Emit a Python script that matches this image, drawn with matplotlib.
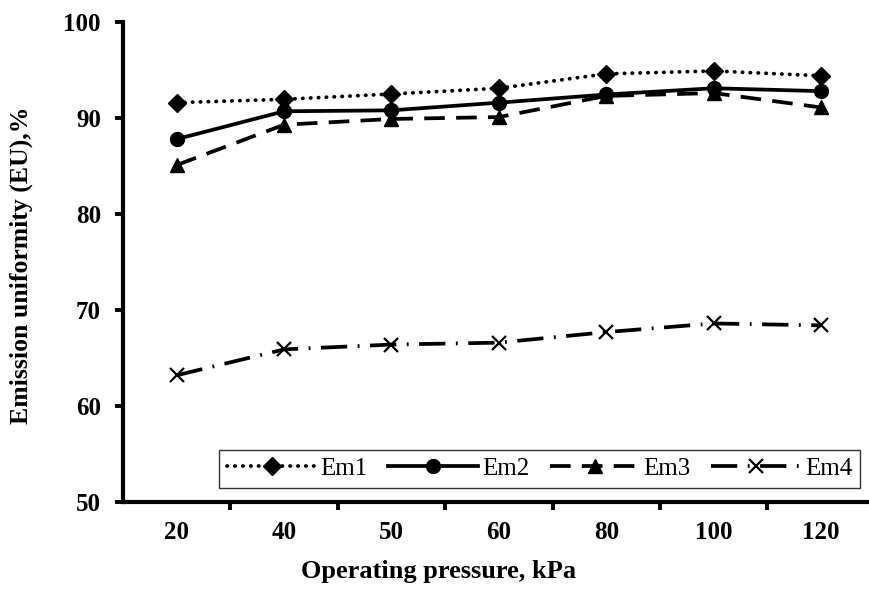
import matplotlib
matplotlib.use("Agg")
import matplotlib.pyplot as plt

pressure = ["20", "40", "50", "60", "80", "100", "120"]
em1 = [91.6, 91.95, 92.5, 93.1, 94.6, 94.9, 94.4]
em2 = [87.8, 90.7, 90.8, 91.6, 92.45, 93.1, 92.8]
em3 = [85.1, 89.3, 89.9, 90.1, 92.3, 92.6, 91.1]
em4 = [63.2, 65.9, 66.4, 66.6, 67.7, 68.6, 68.4]

plt.rcParams["font.family"] = ["Liberation Serif", "DejaVu Serif"]

fig = plt.figure(figsize=(8.7, 5.95), dpi=100)
ax = fig.add_axes([0.1414, 0.1563, 0.864, 0.8067])

x = list(range(len(pressure)))
lw = 2.7
ms = 10
ax.plot(x, em1, color="black", lw=lw, linestyle=(0, (0.1, 2.0)), dash_capstyle="round",
        marker="D", ms=ms - 1, label="Em1")
ax.plot(x, em2, color="black", lw=lw, linestyle="-", marker="o", ms=ms, label="Em2")
ax.plot(x, em3, color="black", lw=lw, linestyle=(0, (5.5, 3)), marker="^", ms=ms, label="Em3")
ax.plot(x, em4, color="black", lw=lw, linestyle=(0, (7, 2.8, 0.5, 2.8)), marker="x", ms=ms,
        mew=1.6, label="Em4")

ax.set_xlim(-0.5, len(pressure) - 0.5)
ax.set_ylim(50, 100)
ax.set_yticks(range(50, 101, 10))
ax.set_xticks([i + 0.5 for i in range(len(pressure) - 1)])
ax.set_xticklabels([])
ax.set_xticks(x, minor=True)
ax.set_xticklabels(pressure, minor=True)
ax.tick_params(axis="x", which="minor", length=0, pad=14, labelsize=18)
ax.tick_params(axis="x", which="major", length=6, width=2.8, direction="out")
ax.tick_params(axis="y", length=6, width=2.8, direction="out", labelsize=18, pad=10)
for lab in ax.get_xticklabels(minor=True) + ax.get_yticklabels():
    lab.set_fontweight("bold")

for s in ["top", "right"]:
    ax.spines[s].set_visible(False)
for s in ["left", "bottom"]:
    ax.spines[s].set_linewidth(3.0)

fig.text(0.504, 0.04, "Operating pressure, kPa", ha="center", va="center",
         fontsize=19, fontweight="bold")
fig.text(0.025, 0.555, "Emission uniformity (EU),%", ha="center", va="center",
         rotation=90, fontsize=18.5, fontweight="bold")

leg = ax.legend(ncol=4, loc="lower left", bbox_to_anchor=(0.128, 0.03, 0.852, 0.108),
                mode="expand", frameon=True, fancybox=False, fontsize=18,
                handlelength=3.6, handletextpad=0.15, columnspacing=0.8, borderaxespad=0,
                borderpad=0.3)
leg.get_frame().set_edgecolor("black")
leg.get_frame().set_linewidth(1.0)

fig.savefig("out.png", dpi=100)
